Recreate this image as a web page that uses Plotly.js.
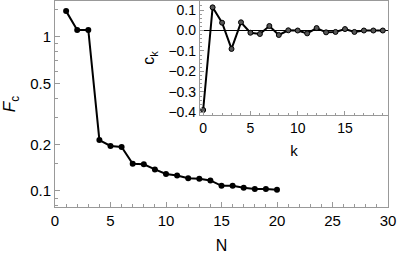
<!DOCTYPE html>
<html><head><meta charset="utf-8">
<script src="https://cdn.plot.ly/plotly-3.0.1.min.js"></script>
<style>body{margin:0;background:#fff}</style></head>
<body><div id="c" style="width:398px;height:257px"></div>
<script>
const N = [1,2,3,4,5,6,7,8,9,10,11,12,13,14,15,16,17,18,19,20];
const Fc = [1.47,1.11,1.11,0.214,0.196,0.193,0.150,0.149,0.138,0.129,0.126,0.121,0.120,0.117,0.108,0.108,0.105,0.103,0.103,0.102];
const k = [0,1,2,3,4,5,6,7,8,9,10,11,12,13,14,15,16,17,18,19];
const ck = [-0.388,0.113,0.038,-0.090,0.040,-0.011,-0.017,0.022,-0.022,0.001,0.0,-0.014,0.012,-0.009,-0.007,0.007,-0.007,0.0,0.0,0.0];
const mainYTicks = [0.1,0.2,0.5,1];
const mainYTickText = ['0.1','0.2','0.5','1'];
const mainYMinor = [0.08,0.09,0.15,0.3,0.4,0.6,0.7,0.8,0.9,1.5];
const insetYTicks = [-0.4,-0.3,-0.2,-0.1,0.0,0.1];
const insetYTickText = ['\u22120.4','\u22120.3','\u22120.2','\u22120.1','0.0','0.1'];

const F = 'Liberation Sans, Arial, sans-serif';
const gray = '#999';
const traces = [
  {x:N, y:Fc, xaxis:'x', yaxis:'y', mode:'lines+markers',
   line:{color:'#000', width:2}, marker:{color:'#000', size:6}},
  {x:k, y:ck, xaxis:'x2', yaxis:'y2', mode:'lines+markers',
   line:{color:'#000', width:2}, marker:{color:'#555', size:5, line:{color:'#000', width:1}}}
];
const layout = {
  width:398, height:257, showlegend:false,
  margin:{l:55, r:10, t:1, b:50},
  paper_bgcolor:'#fff', plot_bgcolor:'rgba(0,0,0,0)',
  font:{family:F, color:'#000'},
  xaxis:{domain:[0,1], range:[0,30], tickvals:[0,5,10,15,20,25,30], ticks:'inside', ticklen:5, tickcolor:gray,
    minor:{dtick:1, tick0:0, ticks:'inside', ticklen:3, tickcolor:gray},
    showgrid:false, zeroline:false, showline:true, linecolor:gray, linewidth:1, mirror:true,
    tickfont:{size:15}, title:{text:'N', font:{size:16}, standoff:11}},
  yaxis:{domain:[0,1], type:'log', range:[-1.104,0.233], tickvals:mainYTicks, ticktext:mainYTickText,
    ticks:'inside', ticklen:5, tickcolor:gray,
    minor:{tickmode:'array', tickvals:mainYMinor, ticks:'inside', ticklen:3, tickcolor:gray},
    showgrid:false, zeroline:false, showline:true, linecolor:gray, linewidth:1, mirror:true,
    tickfont:{size:15}, title:{text:'<i>F</i><sub>c</sub>', font:{size:17}, standoff:12}},
  xaxis2:{domain:[0.435,1], anchor:'y2', range:[-0.35,19.55], tickvals:[0,5,10,15], ticks:'inside', ticklen:4, tickcolor:gray,
    minor:{dtick:1, tick0:0, ticks:'inside', ticklen:2, tickcolor:gray},
    showgrid:false, zeroline:false, showline:true, linecolor:gray, linewidth:1, mirror:true,
    tickfont:{size:14}, title:{text:'k', font:{size:15}, standoff:10}},
  yaxis2:{domain:[0.447,1], anchor:'x2', range:[-0.412,0.144], tickvals:insetYTicks, ticktext:insetYTickText,
    ticks:'inside', ticklen:4, tickcolor:gray,
    minor:{dtick:0.02, tick0:0, ticks:'inside', ticklen:2, tickcolor:gray},
    showgrid:false, zeroline:true, zerolinecolor:'#000', zerolinewidth:1,
    showline:true, linecolor:gray, linewidth:1, mirror:true,
    tickfont:{size:14}, title:{text:'c<sub>k</sub>', font:{size:16}, standoff:9}}
};
Plotly.newPlot('c', traces, layout, {staticPlot:true, displayModeBar:false});
</script></body></html>
